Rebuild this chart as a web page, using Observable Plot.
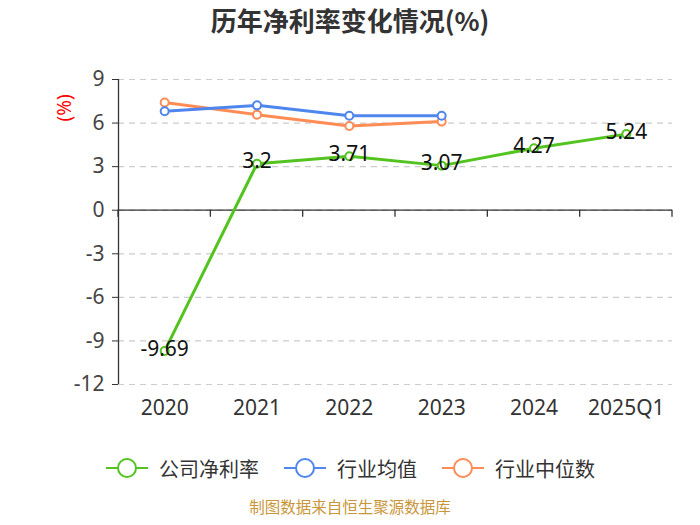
<!DOCTYPE html>
<html>
<head>
<meta charset="utf-8">
<script src="https://cdn.jsdelivr.net/npm/d3@7"></script>
<script src="https://cdn.jsdelivr.net/npm/@observablehq/plot@0.6"></script>
<style>
  body { margin: 0; background: #fff; font-family: "Noto Sans", "Noto Sans CJK SC", sans-serif; }
  #wrap { width: 700px; height: 525px; position: relative; }
  #title { height: 40px; line-height: 40px; text-align: center; font-size: 26px; font-weight: bold; color: #333; font-family: "Noto Sans CJK SC", "Noto Sans", sans-serif; }
  #legend { height: 56px; display: flex; justify-content: center; align-items: center; gap: 24px; font-size: 20px; color: #333; font-family: "Noto Sans CJK SC", sans-serif; }
  .item { display: flex; align-items: center; gap: 10px; }
  #footer { text-align: center; font-size: 15.5px; color: #c9963a; font-family: "Noto Sans CJK SC", sans-serif; line-height: 20px; margin-top: 0px; }
</style>
</head>
<body>
<div id="wrap">
  <div id="title">历年净利率变化情况(%)</div>
  <div id="chart"></div>
  <div id="legend"></div>
  <div id="footer">制图数据来自恒生聚源数据库</div>
</div>
<script>
const categories = ["2020", "2021", "2022", "2023", "2024", "2025Q1"];
const companyNetMargin = [-9.69, 3.2, 3.71, 3.07, 4.27, 5.24];
const industryMean = [6.81, 7.22, 6.51, 6.50];
const industryMedian = [7.42, 6.58, 5.80, 6.10];
const yTicks = [-12, -9, -6, -3, 0, 3, 6, 9];
const seriesNames = ["公司净利率", "行业均值", "行业中位数"];
const colors = ["#52c31f", "#4f86ee", "#ff8c55"];

const company = companyNetMargin.map((v, i) => ({i, v}));
const mean = industryMean.map((v, i) => ({i, v}));
const median = industryMedian.map((v, i) => ({i, v}));
const bounds = d3.range(categories.length + 1).map(k => k - 0.5);

const xTickMarks = (index, scales, values, dims) => {
  const g = d3.create("svg:g");
  const y0 = scales.y(0);
  for (const b of bounds) {
    g.append("line")
      .attr("x1", scales.x(b)).attr("x2", scales.x(b))
      .attr("y1", y0).attr("y2", y0 + 7)
      .attr("stroke", "#333").attr("stroke-width", 1.3);
  }
  return g.node();
};

const plot = Plot.plot({
  width: 700,
  height: 400,
  marginLeft: 118,
  marginRight: 28,
  marginTop: 39,
  marginBottom: 56,
  style: {fontFamily: "'Noto Sans', 'Open Sans', sans-serif", background: "#fff"},
  x: {type: "linear", domain: [-0.5, categories.length - 0.5]},
  y: {domain: [-12, 9]},
  marks: [
    Plot.gridY(yTicks, {stroke: "#ccc", strokeOpacity: 1, strokeDasharray: "6,5", strokeWidth: 1.2}),
    Plot.axisY(yTicks, {tickSize: 6, tickPadding: 8, fontSize: 21, color: "#444", stroke: "#333", label: null, tickFormat: d => String(d)}),
    Plot.axisX(d3.range(categories.length), {tickSize: 0, tickPadding: 16, fontSize: 21, color: "#333", tickFormat: i => categories[i], label: null}),
    Plot.ruleX([-0.5], {y1: -12, y2: 9, stroke: "#333", strokeWidth: 1.3}),
    Plot.ruleY([0], {stroke: "#333", strokeWidth: 1.3}),
    xTickMarks,
    Plot.text(["(%)"], {frameAnchor: "top-left", dx: -54, dy: 42, rotate: -90, fill: "red", fontSize: 19, lineAnchor: "middle"}),
    Plot.line(median, {x: "i", y: "v", stroke: colors[2], strokeWidth: 3}),
    Plot.line(mean, {x: "i", y: "v", stroke: colors[1], strokeWidth: 3}),
    Plot.line(company, {x: "i", y: "v", stroke: colors[0], strokeWidth: 3}),
    Plot.dot(median, {x: "i", y: "v", r: 4, fill: "#fff", stroke: colors[2], strokeWidth: 2}),
    Plot.dot(mean, {x: "i", y: "v", r: 4, fill: "#fff", stroke: colors[1], strokeWidth: 2}),
    Plot.dot(company, {x: "i", y: "v", r: 4, fill: "#fff", stroke: colors[0], strokeWidth: 2}),
    Plot.text(company, {x: "i", y: "v", text: d => String(d.v), fontSize: 21, fill: "#111", dy: -2, lineAnchor: "middle"})
  ]
});
document.getElementById("chart").appendChild(plot);

const legend = document.getElementById("legend");
seriesNames.forEach((name, k) => {
  const item = document.createElement("div");
  item.className = "item";
  item.innerHTML = `<svg width="44" height="22"><line x1="1" x2="43" y1="11" y2="11" stroke="${colors[k]}" stroke-width="2"/><circle cx="22" cy="11" r="9" fill="#fff" stroke="${colors[k]}" stroke-width="2"/></svg><span>${name}</span>`;
  legend.appendChild(item);
});
</script>
</body>
</html>
